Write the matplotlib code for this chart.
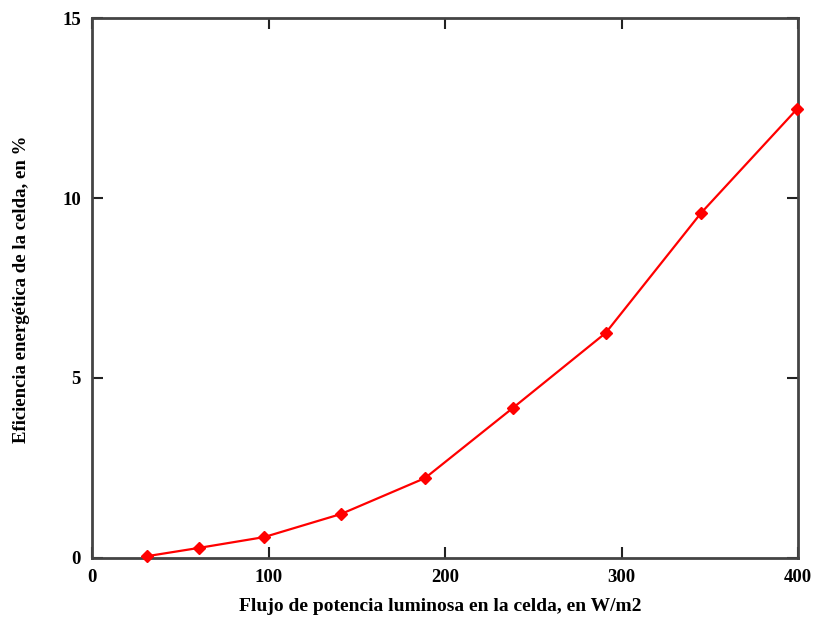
import numpy as np
import matplotlib
matplotlib.use("Agg")
from matplotlib import pyplot as plt

# flux (W/m2) and cell efficiency (%)
flujo = [31.2, 60.6, 97.5, 141.0, 188.7, 238.5, 291.0, 345.0, 399.4]
eficiencia = [0.05, 0.28, 0.58, 1.22, 2.22, 4.17, 6.25, 9.58, 12.47]

x_ticks = [0, 100, 200, 300, 400]
y_ticks = [0, 5, 10, 15]

plt.rcParams['font.family'] = ['Liberation Serif', 'DejaVu Serif']
plt.rcParams['font.weight'] = 'bold'

fig = plt.figure(figsize=(8.2, 6.28), dpi=100)
ax = fig.add_axes([0.1122, 0.1115, 0.8610, 0.8598])

ax.plot(flujo, eficiencia, color='red', linewidth=1.6, marker='D', markersize=6,
        markerfacecolor='red', markeredgecolor='red', clip_on=False, zorder=3)

ax.set_xlim(0, 400)
ax.set_ylim(0, 15)
ax.set_xticks(x_ticks)
ax.set_yticks(y_ticks)
ax.tick_params(direction='in', top=True, right=True, length=8, width=1.5,
               labelsize=13.5, pad=8, color='#222222')
for lbl in ax.get_xticklabels() + ax.get_yticklabels():
    lbl.set_fontweight('bold')
for sp in ax.spines.values():
    sp.set_linewidth(2)
    sp.set_color('#444444')

fig.text(0.537, 0.035, "Flujo de potencia luminosa en la celda, en W/m2",
         ha='center', va='center', fontsize=14, fontweight='bold')
fig.text(0.026, 0.54, "Eficiencia energética de la celda, en %", rotation=90,
         ha='center', va='center', fontsize=13.5, fontweight='bold')

plt.savefig("out.png", dpi=100)
